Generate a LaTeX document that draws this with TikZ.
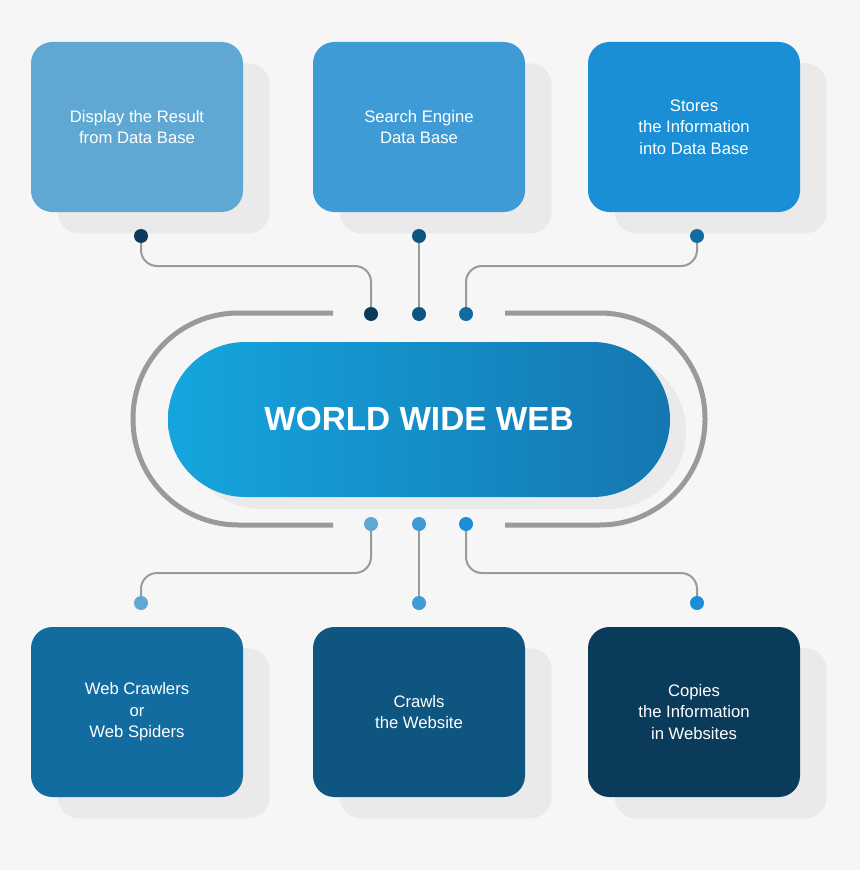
\documentclass[tikz,border=0pt]{standalone}
\usepackage{fontspec}
\setmainfont{Liberation Sans}
\usetikzlibrary{shadows}
\definecolor{bg}{HTML}{F6F6F6}
\definecolor{cA}{HTML}{5FA8D3}
\definecolor{cB}{HTML}{3F9BD5}
\definecolor{cC}{HTML}{1A8FD6}
\definecolor{cD}{HTML}{136CA0}
\definecolor{cE}{HTML}{0E5580}
\definecolor{cF}{HTML}{0B3B5A}
\definecolor{ln}{HTML}{9A9A9A}
\definecolor{sh}{HTML}{EAEAEA}
\begin{document}
\begin{tikzpicture}[x=0.75pt,y=-0.75pt,
  box/.style={rounded corners=16pt,minimum width=159pt,minimum height=127.5pt,text=white,align=center,font=\fontsize{12.5}{16}\selectfont,inner sep=0pt,
    drop shadow={shadow xshift=20pt,shadow yshift=-16pt,fill=sh,opacity=1}},
  conn/.style={draw=ln,line width=1.5pt,rounded corners=12pt},
  dot/.style={circle,inner sep=0pt,minimum size=10.5pt}]
\fill[bg] (0,0) rectangle (860,870);
\useasboundingbox (0,0) rectangle (860,870);
% boxes
\node[box,fill=cA] (b1) at (137,127) {Display the Result\\from Data Base};
\node[box,fill=cB] (b2) at (419,127) {Search Engine\\Data Base};
\node[box,fill=cC] (b3) at (694,127) {Stores\\the Information\\into Data Base};
\node[box,fill=cD] (b4) at (137,712) {Web Crawlers\\or\\Web Spiders};
\node[box,fill=cE] (b5) at (419,712) {Crawls\\the Website};
\node[box,fill=cF] (b6) at (694,712) {Copies\\the Information\\in Websites};
% track
\draw[ln,line width=3.75pt,rounded corners=79pt] (333,313) -- (133,313) -- (133,525) -- (333,525);
\draw[ln,line width=3.75pt,rounded corners=79pt] (505,313) -- (705,313) -- (705,525) -- (505,525);
% pill
\fill[sh,rounded corners=58pt] (184,354) rectangle (686,509);
\node[rounded corners=58pt,minimum width=376.5pt,minimum height=116.25pt,left color=cC!80!cyan,right color=cD!70!cC,text=white,font=\fontsize{25}{30}\selectfont\bfseries,inner sep=0pt] (www) at (419,419.5) {WORLD WIDE WEB};
% coordinates
\coordinate (m1) at (256,266);
\coordinate (m3) at (580,266);
\coordinate (m4) at (256,573);
\coordinate (m6) at (580,573);
% dots
\node[dot] (d1) at (141,236) {};
\node[dot] (d2) at (419,236) {};
\node[dot] (d3) at (697,236) {};
\node[dot] (t1) at (371,314) {};
\node[dot] (t2) at (419,314) {};
\node[dot] (t3) at (466,314) {};
\node[dot] (u1) at (371,524) {};
\node[dot] (u2) at (419,524) {};
\node[dot] (u3) at (466,524) {};
\node[dot] (e1) at (141,603) {};
\node[dot] (e2) at (419,603) {};
\node[dot] (e3) at (697,603) {};
% connectors
\draw[conn] (d1.center) |- (m1) -| (t1.center);
\draw[conn] (d2.center) -- (t2.center);
\draw[conn] (d3.center) |- (m3) -| (t3.center);
\draw[conn] (e1.center) |- (m4) -| (u1.center);
\draw[conn] (e2.center) -- (u2.center);
\draw[conn] (e3.center) |- (m6) -| (u3.center);
% dot fills
\fill[cF] (d1) circle (5.25pt); \fill[cE] (d2) circle (5.25pt); \fill[cD] (d3) circle (5.25pt);
\fill[cF] (t1) circle (5.25pt); \fill[cE] (t2) circle (5.25pt); \fill[cD] (t3) circle (5.25pt);
\fill[cA] (u1) circle (5.25pt); \fill[cB] (u2) circle (5.25pt); \fill[cC] (u3) circle (5.25pt);
\fill[cA] (e1) circle (5.25pt); \fill[cB] (e2) circle (5.25pt); \fill[cC] (e3) circle (5.25pt);
\end{tikzpicture}
\end{document}
